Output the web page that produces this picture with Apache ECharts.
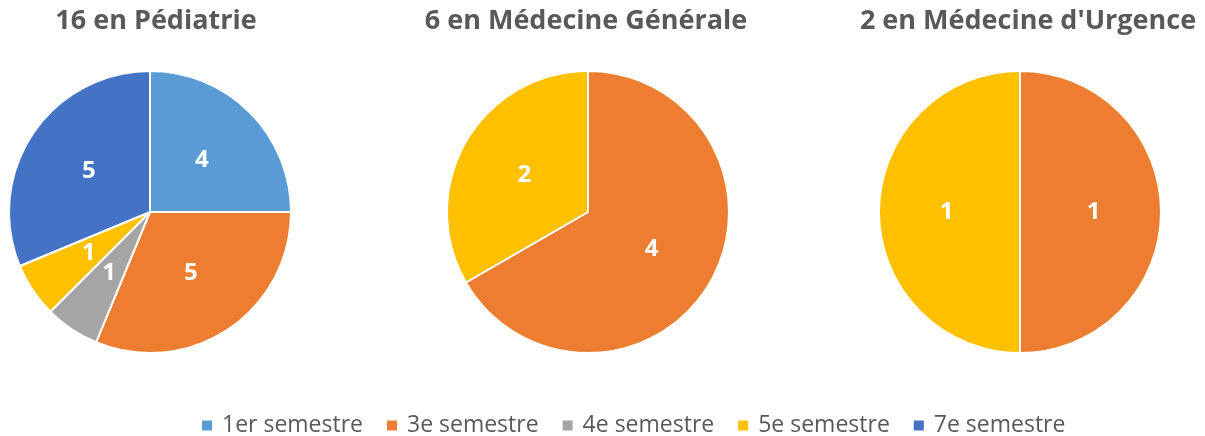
<!DOCTYPE html>
<html><head><meta charset="utf-8">
<script src="https://cdn.jsdelivr.net/npm/echarts@6/dist/echarts.min.js"></script>
<style>html,body{margin:0;padding:0;background:#fff}#c{width:1205px;height:436px}</style>
</head><body><div id="c"></div>
<script>
const categories = ['1er semestre', '3e semestre', '4e semestre', '5e semestre', '7e semestre'];
const colors = ['#5B9BD5', '#ED7D31', '#A5A5A5', '#FFC000', '#4472C4'];
const titles = ['16 en Pédiatrie', '6 en Médecine Générale', "2 en Médecine d'Urgence"];
const pediatrie = [4, 5, 1, 1, 5];
const medecineGenerale = [0, 4, 0, 2, 0];
const medecineUrgence = [0, 1, 0, 1, 0];

const groups = [pediatrie, medecineGenerale, medecineUrgence];
const centersX = [150, 588, 1020];
const titleX = [151, 581, 1023];
const font = '"Open Sans", sans-serif';

const chart = echarts.init(document.getElementById('c'), null, {renderer: 'canvas'});
chart.setOption({
  animation: false,
  color: colors,
  title: titles.map((t, i) => ({
    text: t, left: titleX[i], top: 3, textAlign: 'center',
    textStyle: {fontFamily: font, fontSize: 27, fontWeight: 'bold', color: '#595959'}
  })),
  legend: {
    data: categories, bottom: -6, left: 195, itemWidth: 12, itemHeight: 12, icon: 'rect',
    itemGap: 22,
    textStyle: {fontFamily: font, fontSize: 23, color: '#595959', padding: [0, 0, 0, 4]}
  },
  series: groups.map((vals, i) => ({
    type: 'pie', center: [centersX[i], 212], radius: [0, 141],
    startAngle: 90, clockwise: true, avoidLabelOverlap: false,
    itemStyle: {borderColor: '#fff', borderWidth: 2},
    label: {position: 'inside', formatter: '{c}', color: '#fff', fontFamily: font, fontSize: 24, fontWeight: 'bold'},
    labelLine: {show: false},
    emphasis: {disabled: true},
    data: categories.map((c, k) => ({name: c, value: vals[k], itemStyle: {color: colors[k]}})).filter(d => d.value > 0)
  }))
});
</script></body></html>
